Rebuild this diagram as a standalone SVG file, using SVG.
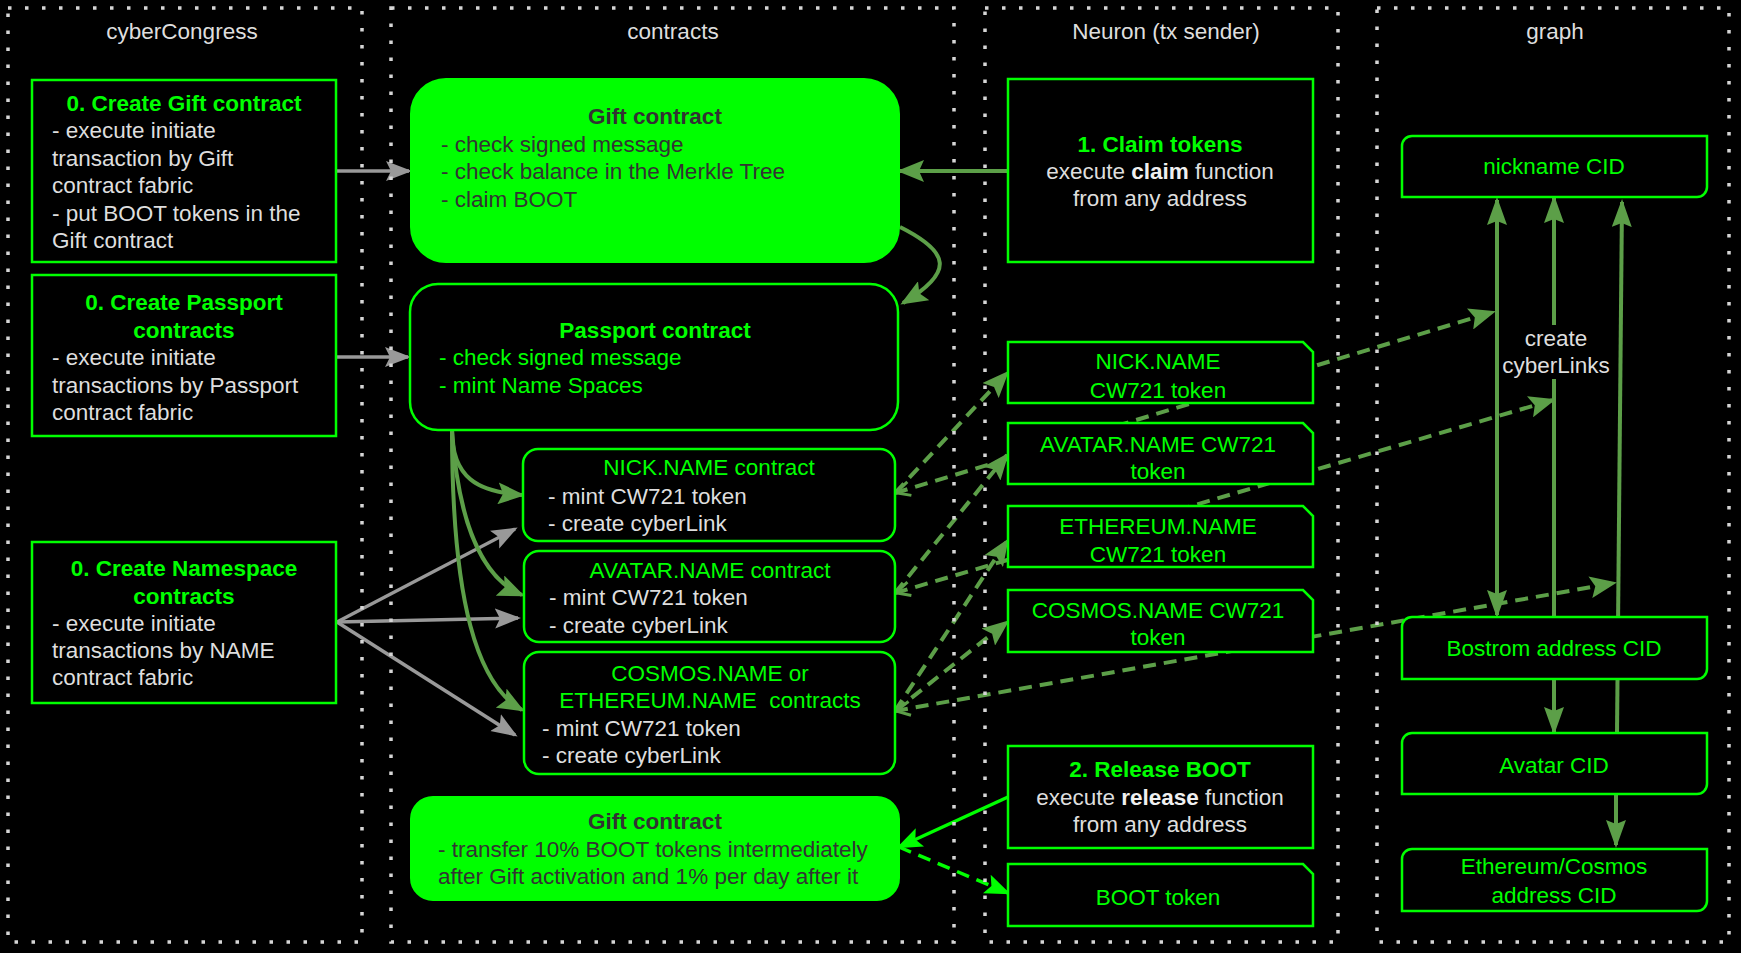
<svg xmlns="http://www.w3.org/2000/svg" width="1741" height="953" viewBox="0 0 1741 953">
<style>
.t{font-family:"Liberation Sans",Arial,Helvetica,sans-serif;font-size:22.5px}
.g{fill:#00ff00}
.w{fill:#dedede}
.d{fill:#333333}
.b{font-weight:bold}
.m{text-anchor:middle}
.box{fill:#000;stroke:#00ff00;stroke-width:2.5}
.gbox{fill:#00ff00;stroke:#00ff00;stroke-width:2}
.col{fill:none;stroke:#d6d6d6;stroke-width:3.5;stroke-dasharray:3.5 13.5}
.cg{fill:none;stroke:#999999;stroke-width:3.5}
.cn{fill:none;stroke:#5c9f48;stroke-width:4}
.cb{fill:none;stroke:#00ff00;stroke-width:3.5}
.dash{stroke-dasharray:13 8}
</style>
<defs>
<marker id="mg" viewBox="0 0 26 22" refX="23" refY="11" markerWidth="26" markerHeight="22" orient="auto" markerUnits="userSpaceOnUse"><path d="M0,1 L26,11 L0,21 L5,11 Z" fill="#999999"/></marker>
<marker id="mn" viewBox="0 0 27 22" refX="24" refY="11" markerWidth="27" markerHeight="22" orient="auto" markerUnits="userSpaceOnUse"><path d="M0,0 L27,11 L0,22 L5,11 Z" fill="#5c9f48"/></marker>
<marker id="mn2" viewBox="0 0 28 20" refX="25" refY="10" markerWidth="28" markerHeight="20" orient="auto-start-reverse" markerUnits="userSpaceOnUse"><path d="M0,0 L28,10 L0,20 L4,10 Z" fill="#5c9f48"/></marker>
<marker id="mb" viewBox="0 0 26 22" refX="23" refY="11" markerWidth="26" markerHeight="22" orient="auto" markerUnits="userSpaceOnUse"><path d="M0,1 L26,11 L0,21 L5,11 Z" fill="#00ff00"/></marker>
<marker id="mo" viewBox="-3 -10 20 20" refX="0" refY="0" markerWidth="20" markerHeight="20" orient="auto" markerUnits="userSpaceOnUse"><path d="M15,-7 L1,0 L15,7" fill="none" stroke="#5c9f48" stroke-width="3"/></marker>
</defs>
<rect width="1741" height="953" fill="#000"/>

<g id="connectors">
<path class="cg" d="M336 171 L409 171" marker-end="url(#mg)"/>
<path class="cg" d="M336 357 L408 357" marker-end="url(#mg)"/>
<path class="cg" d="M337 622 L515 529" marker-end="url(#mg)"/>
<path class="cg" d="M337 622 L518 618" marker-end="url(#mg)"/>
<path class="cg" d="M337 622 L515 735" marker-end="url(#mg)"/>
<path class="cn" d="M1008 171 L900 171" marker-end="url(#mn)"/>
<path class="cn" d="M900 227 C950 252 955 272 903 303" marker-end="url(#mn)"/>
<path class="cn" d="M452 430 C452 478 478 492 522 495" marker-end="url(#mn)"/>
<path class="cn" d="M452 430 C458 522 482 578 522 595" marker-end="url(#mn)"/>
<path class="cn" d="M452 430 C452 605 478 685 522 710" marker-end="url(#mn)"/>
<path class="cn dash" d="M895 493 L1007 373" marker-end="url(#mn)"/>
<path class="cn dash" d="M895 593 L1007 455" marker-end="url(#mn)"/>
<path class="cn dash" d="M895 711 L1007 541" marker-end="url(#mn)"/>
<path class="cn dash" d="M895 711 L1007 622" marker-end="url(#mn)"/>
<path class="cn dash" d="M895 493 L1493 312" marker-start="url(#mo)" marker-end="url(#mn)"/>
<path class="cn dash" d="M895 593 L1553 400" marker-start="url(#mo)" marker-end="url(#mn)"/>
<path class="cn dash" d="M895 711 L1614 583" marker-start="url(#mo)" marker-end="url(#mn)"/>
<path class="cb" d="M1008 797 L899 847" marker-end="url(#mb)"/>
<path class="cb dash" d="M899 847 L1008 893" marker-end="url(#mb)"/>
<path class="cn" d="M1497 615 L1497 200" marker-start="url(#mn2)" marker-end="url(#mn2)"/>
<path class="cn" d="M1554 617 L1554 379"/>
<path class="cn" d="M1554 325 L1554 198" marker-end="url(#mn2)"/>
<path class="cn" d="M1617 733 L1622 202" marker-end="url(#mn2)"/>
<path class="cn" d="M1554 679 L1554 732" marker-end="url(#mn2)"/>
<path class="cn" d="M1616 794 L1616 845" marker-end="url(#mn2)"/>
<text class="t w m" x="1556" y="346">create</text>
<text class="t w m" x="1556" y="373">cyberLinks</text>
</g>

<g id="gift-create">
<rect class="box" x="32" y="80" width="304" height="182"/>
<text class="t g b m" x="184" y="111">0. Create Gift contract</text>
<text class="t w" x="52" y="138">- execute initiate</text>
<text class="t w" x="52" y="166">transaction by Gift</text>
<text class="t w" x="52" y="193">contract fabric</text>
<text class="t w" x="52" y="221">- put BOOT tokens in the</text>
<text class="t w" x="52" y="248">Gift contract</text>
</g>
<g id="passport-create">
<rect class="box" x="32" y="275" width="304" height="161"/>
<text class="t g b m" x="184" y="310">0. Create Passport</text>
<text class="t g b m" x="184" y="338">contracts</text>
<text class="t w" x="52" y="365">- execute initiate</text>
<text class="t w" x="52" y="393">transactions by Passport</text>
<text class="t w" x="52" y="420">contract fabric</text>
</g>
<g id="namespace-create">
<rect class="box" x="32" y="542" width="304" height="161"/>
<text class="t g b m" x="184" y="576">0. Create Namespace</text>
<text class="t g b m" x="184" y="604">contracts</text>
<text class="t w" x="52" y="631">- execute initiate</text>
<text class="t w" x="52" y="658">transactions by NAME</text>
<text class="t w" x="52" y="685">contract fabric</text>
</g>

<g id="gift-contract">
<rect class="gbox" x="411" y="79" width="488" height="183" rx="35"/>
<text class="t d b m" x="655" y="124">Gift contract</text>
<text class="t d" x="441" y="152">- check signed message</text>
<text class="t d" x="441" y="179">- check balance in the Merkle Tree</text>
<text class="t d" x="441" y="207">- claim BOOT</text>
</g>
<g id="passport-contract">
<rect class="box" x="410" y="284" width="488" height="146" rx="28"/>
<text class="t g b m" x="655" y="338">Passport contract</text>
<text class="t g" x="439" y="365">- check signed message</text>
<text class="t g" x="439" y="393">- mint Name Spaces</text>
</g>
<g id="nick-contract">
<rect class="box" x="523" y="449" width="372" height="92" rx="15"/>
<text class="t g m" x="709" y="475">NICK.NAME contract</text>
<text class="t w" x="548" y="504">- mint CW721 token</text>
<text class="t w" x="548" y="531">- create cyberLink</text>
</g>
<g id="avatar-contract">
<rect class="box" x="524" y="551" width="371" height="91" rx="15"/>
<text class="t g m" x="710" y="578">AVATAR.NAME contract</text>
<text class="t w" x="549" y="605">- mint CW721 token</text>
<text class="t w" x="549" y="633">- create cyberLink</text>
</g>
<g id="cosmos-contract">
<rect class="box" x="524" y="652" width="371" height="122" rx="15"/>
<text class="t g m" x="710" y="681">COSMOS.NAME or</text>
<text class="t g m" x="710" y="708" xml:space="preserve">ETHEREUM.NAME  contracts</text>
<text class="t w" x="542" y="736">- mint CW721 token</text>
<text class="t w" x="542" y="763">- create cyberLink</text>
</g>
<g id="gift-release-contract">
<rect class="gbox" x="411" y="797" width="488" height="103" rx="22"/>
<text class="t d b m" x="655" y="829">Gift contract</text>
<text class="t d" x="438" y="857">- transfer 10% BOOT tokens intermediately</text>
<text class="t d" x="438" y="884">after Gift activation and 1% per day after it</text>
</g>

<g id="claim">
<rect class="box" x="1008" y="79" width="305" height="183"/>
<text class="t g b m" x="1160" y="152">1. Claim tokens</text>
<text class="t w m" x="1160" y="179">execute <tspan class="b" fill="#f0f0f0">claim</tspan> function</text>
<text class="t w m" x="1160" y="206">from any address</text>
</g>
<g id="nick-token">
<path class="box" d="M1008 342 H1303 L1313 352 V403 H1008 Z"/>
<text class="t g m" x="1158" y="369">NICK.NAME</text>
<text class="t g m" x="1158" y="398">CW721 token</text>
</g>
<g id="avatar-token">
<path class="box" d="M1008 423 H1303 L1313 433 V484 H1008 Z"/>
<text class="t g m" x="1158" y="452">AVATAR.NAME CW721</text>
<text class="t g m" x="1158" y="479">token</text>
</g>
<g id="ethereum-token">
<path class="box" d="M1008 506 H1303 L1313 516 V567 H1008 Z"/>
<text class="t g m" x="1158" y="534">ETHEREUM.NAME</text>
<text class="t g m" x="1158" y="562">CW721 token</text>
</g>
<g id="cosmos-token">
<path class="box" d="M1008 590 H1303 L1313 600 V652 H1008 Z"/>
<text class="t g m" x="1158" y="618">COSMOS.NAME CW721</text>
<text class="t g m" x="1158" y="645">token</text>
</g>
<g id="release">
<rect class="box" x="1008" y="746" width="305" height="102"/>
<text class="t g b m" x="1160" y="777">2. Release BOOT</text>
<text class="t w m" x="1160" y="805">execute <tspan class="b" fill="#f0f0f0">release</tspan> function</text>
<text class="t w m" x="1160" y="832">from any address</text>
</g>
<g id="boot-token">
<path class="box" d="M1008 864 H1303 L1313 874 V926 H1008 Z"/>
<text class="t g m" x="1158" y="905">BOOT token</text>
</g>

<g id="nickname-cid">
<path class="box" d="M1412 136 H1707 V187 A10 10 0 0 1 1697 197 H1402 V146 A10 10 0 0 1 1412 136 Z"/>
<text class="t g m" x="1554" y="174">nickname CID</text>
</g>
<g id="bostrom-cid">
<path class="box" d="M1412 617 H1707 V669 A10 10 0 0 1 1697 679 H1402 V627 A10 10 0 0 1 1412 617 Z"/>
<text class="t g m" x="1554" y="656">Bostrom address CID</text>
</g>
<g id="avatar-cid">
<path class="box" d="M1412 733 H1707 V784 A10 10 0 0 1 1697 794 H1402 V743 A10 10 0 0 1 1412 733 Z"/>
<text class="t g m" x="1554" y="773">Avatar CID</text>
</g>
<g id="ethcosmos-cid">
<path class="box" d="M1412 849 H1707 V901 A10 10 0 0 1 1697 911 H1402 V859 A10 10 0 0 1 1412 849 Z"/>
<text class="t g m" x="1554" y="874">Ethereum/Cosmos</text>
<text class="t g m" x="1554" y="903">address CID</text>
</g>

<g id="columns">
<rect class="col" x="8" y="8" width="354" height="934"/>
<rect class="col" x="391" y="8" width="563" height="934"/>
<rect class="col" x="985" y="8" width="353" height="934"/>
<rect class="col" x="1377" y="8" width="352" height="934"/>
<text class="t w m" x="182" y="39">cyberCongress</text>
<text class="t w m" x="673" y="39">contracts</text>
<text class="t w m" x="1166" y="39">Neuron (tx sender)</text>
<text class="t w m" x="1555" y="39">graph</text>
</g>
</svg>
